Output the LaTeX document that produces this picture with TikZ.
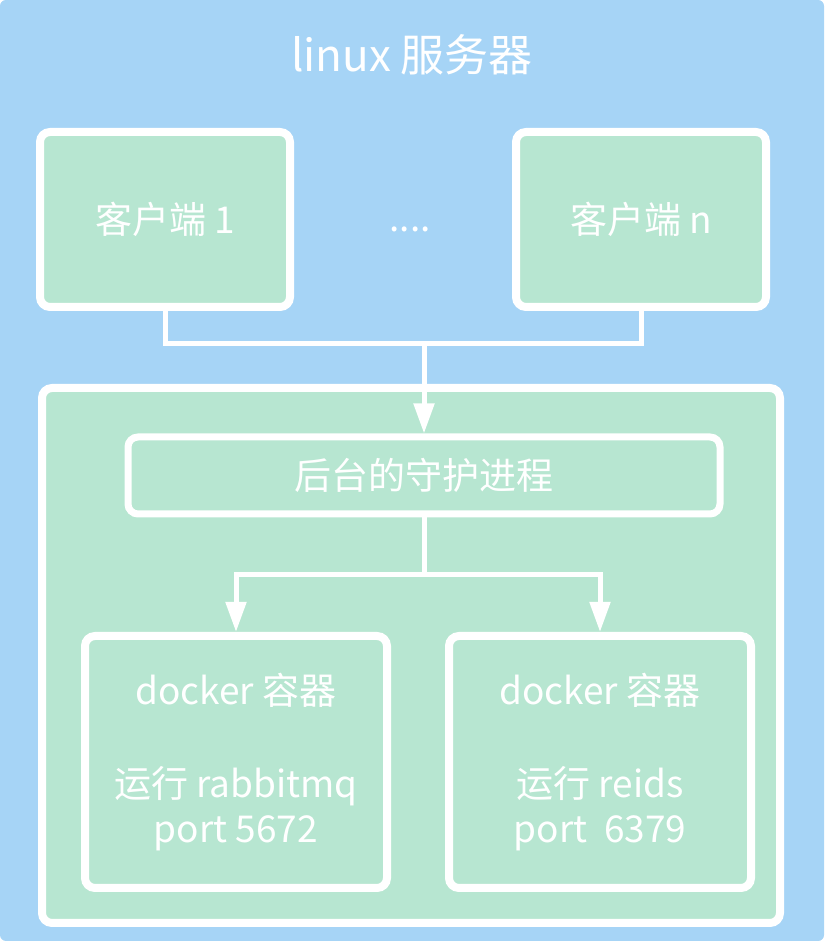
\documentclass[tikz,border=0pt]{standalone}
\usepackage{fontspec}
\setmainfont{Noto Sans CJK SC}
\usepackage{tikz}
\usetikzlibrary{arrows.meta, positioning}
\definecolor{bgblue}{RGB}{166,212,246}
\definecolor{boxgreen}{RGB}{183,230,209}

\begin{document}
\begin{tikzpicture}[x=1pt, y=1pt, >={Triangle[width=20pt, length=30pt]},
    box/.style={draw=white, fill=boxgreen, line width=8pt, rounded corners=10pt,
      text=white, align=center},
    wire/.style={draw=white, line width=5pt},
    txt/.style={text=white, font=\fontsize{37}{40}\selectfont}]
  \useasboundingbox (0,0) rectangle (824,941);
  % ---- the linux host ----
  \node[fill=bgblue, rounded corners=6pt, minimum width=824pt, minimum height=941pt,
    inner sep=0pt] (server) at (412,470.5) {};
  \node[txt, font=\fontsize{44}{48}\selectfont] (title) at (412,886) {linux 服务器};
  % ---- clients ----
  \node[box, minimum width=250pt, minimum height=175pt] (client1) at (165,721.5) {};
  \node[txt] at (client1) {客户端 1};
  \node[box, minimum width=250pt, minimum height=175pt] (clientn) at (641,721.5) {};
  \node[txt] at (clientn) {客户端 n};
  \node[txt] (dots) at (410,712) {....};
  % ---- docker side ----
  \node[box, minimum width=738pt, minimum height=535pt] (host) at (411,285.5) {};
  \node[box, line width=7pt, minimum width=592pt, minimum height=77pt, txt] (daemon)
    at (424,465.5) {后台的守护进程};
  \node[box, minimum width=302pt, minimum height=252pt, txt] (dockerA) at (236,179)
    {docker 容器\\[53pt]运行 rabbitmq\\[5pt]port 5672};
  \node[box, minimum width=302pt, minimum height=252pt, txt] (dockerB) at (600,179)
    {docker 容器\\[53pt]运行 reids\\[5pt]port \ 6379};
  % ---- connectors ----
  \coordinate (join) at (424,597);
  \coordinate (split) at (424,366);
  \draw[wire] (client1.south) |- (join) -| (clientn.south);
  \draw[wire, ->] (join) -- (daemon.north);
  \draw[wire] (daemon.south) -- (split);
  \draw[wire, ->] (split) -| (dockerA.north);
  \draw[wire, ->] (split) -| (dockerB.north);
\end{tikzpicture}
\end{document}
